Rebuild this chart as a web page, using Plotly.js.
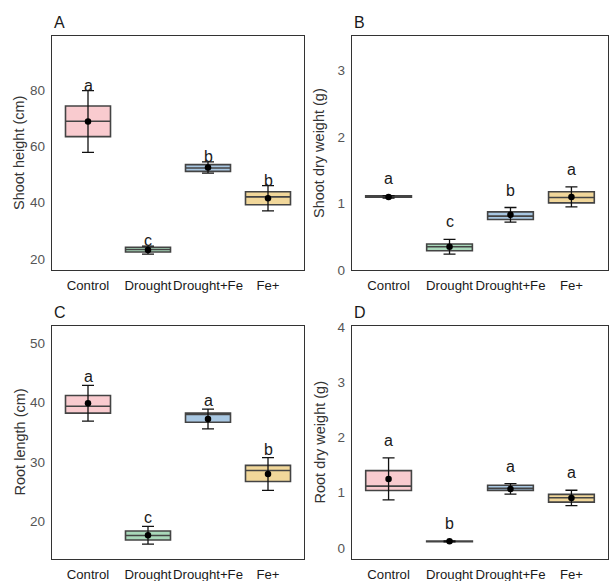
<!DOCTYPE html>
<html>
<head>
<meta charset="utf-8">
<script src="https://cdn.plot.ly/plotly-3.0.1.min.js"></script>
<style>html,body{margin:0;padding:0;background:#fff;}#chart{width:609px;height:581px;}</style>
</head>
<body>
<div id="chart"></div>
<script>
// ---- data ----
var categories = ["Control", "Drought", "Drought+Fe", "Fe+"];
var boxColors = ["#F9CBCF", "#A9D8BA", "#A8C7E2", "#F1D79A"];

// Panel A: Shoot height (cm)
var aQ1 = [63.6, 22.4, 51.2, 39.3];
var aMed = [69.1, 23.3, 52.4, 42.1];
var aQ3 = [74.5, 24.1, 53.6, 43.9];
var aMean = [69.0, 23.1, 52.6, 41.6];
var aSD = [11.0, 1.4, 2.0, 4.5];
var aLetters = ["a", "c", "b", "b"];

// Panel B: Shoot dry weight (g)
var bQ1 = [1.095, 0.29, 0.76, 1.01];
var bMed = [1.105, 0.35, 0.81, 1.09];
var bQ3 = [1.115, 0.39, 0.875, 1.176];
var bMean = [1.10, 0.35, 0.83, 1.10];
var bSD = [0.02, 0.11, 0.11, 0.15];
var bLetters = ["a", "c", "b", "a"];

// Panel C: Root length (cm)
var cQ1 = [38.25, 16.9, 36.7, 26.75];
var cMed = [39.4, 17.65, 38.0, 28.6];
var cQ3 = [41.2, 18.4, 38.25, 29.45];
var cMean = [39.9, 17.7, 37.25, 28.0];
var cSD = [3.0, 1.5, 1.65, 2.75];
var cLetters = ["a", "c", "a", "b"];

// Panel D: Root dry weight (g)
var dQ1 = [1.04, 0.115, 1.04, 0.83];
var dMed = [1.12, 0.12, 1.08, 0.91];
var dQ3 = [1.40, 0.125, 1.135, 0.97];
var dMean = [1.25, 0.12, 1.07, 0.905];
var dSD = [0.38, 0.01, 0.095, 0.14];
var dLetters = ["a", "b", "a", "a"];

var panels = [
  {name: "A", q1: aQ1, med: aMed, q3: aQ3, mean: aMean, sd: aSD, letters: aLetters,
   ytitle: "Shoot height (cm)", yrange: [16, 99.5], ytickvals: [20, 40, 60, 80],
   px: [52, 304], py: [36, 270], lshift: -5},
  {name: "B", q1: bQ1, med: bMed, q3: bQ3, mean: bMean, sd: bSD, letters: bLetters,
   ytitle: "Shoot dry weight (g)", yrange: [0, 3.52], ytickvals: [0, 1, 2, 3],
   px: [352, 608], py: [36, 270], lshift: 7},
  {name: "C", q1: cQ1, med: cMed, q3: cQ3, mean: cMean, sd: cSD, letters: cLetters,
   ytitle: "Root length (cm)", yrange: [13.7, 52.9], ytickvals: [20, 30, 40, 50],
   px: [52, 304], py: [326, 559], lshift: -2},
  {name: "D", q1: dQ1, med: dMed, q3: dQ3, mean: dMean, sd: dSD, letters: dLetters,
   ytitle: "Root dry weight (g)", yrange: [-0.2, 4.02], ytickvals: [0, 1, 2, 3, 4],
   px: [352, 608], py: [326, 559], lshift: 7}
];

var W = 609, H = 581;
var FONT = "Liberation Sans, Arial, sans-serif";
var traces = [];
var layout = {
  width: W, height: H,
  margin: {l: 0, r: 0, t: 0, b: 0},
  paper_bgcolor: "#ffffff", plot_bgcolor: "#ffffff",
  showlegend: false,
  boxmode: "overlay",
  font: {family: FONT, color: "#222"},
  annotations: []
};

panels.forEach(function (p, i) {
  var n = i + 1;
  var xa = "x" + (n === 1 ? "" : n), ya = "y" + (n === 1 ? "" : n);
  var xk = "xaxis" + (n === 1 ? "" : n), yk = "yaxis" + (n === 1 ? "" : n);
  categories.forEach(function (c, k) {
    traces.push({
      type: "box", xaxis: xa, yaxis: ya,
      x: [c], q1: [p.q1[k]], median: [p.med[k]], q3: [p.q3[k]],
      lowerfence: [p.q1[k]], upperfence: [p.q3[k]],
      width: 0.75, fillcolor: boxColors[k],
      line: {color: "#444", width: 1.6},
      boxpoints: false, hoverinfo: "skip"
    });
  });
  traces.push({
    type: "scatter", mode: "markers", xaxis: xa, yaxis: ya,
    x: categories, y: p.mean,
    marker: {color: "#000", size: 6.5},
    error_y: {type: "data", array: p.sd, visible: true, color: "#111", thickness: 1.3, width: 6},
    hoverinfo: "skip"
  });
  layout[xk] = {
    domain: [p.px[0] / W, p.px[1] / W],
    anchor: ya, type: "category", range: [-0.6, 3.6],
    categoryorder: "array", categoryarray: categories,
    showgrid: false, zeroline: false,
    showline: true, mirror: true, linecolor: "#333", linewidth: 1.3,
    ticks: "outside", ticklen: 3, tickcolor: "rgba(0,0,0,0)",
    tickangle: 0,
    tickfont: {family: FONT, size: 13.2, color: "#1a1a1a"}
  };
  layout[yk] = {
    domain: [1 - p.py[1] / H, 1 - p.py[0] / H],
    anchor: xa, range: p.yrange, tickvals: p.ytickvals,
    showgrid: false, zeroline: false,
    showline: true, mirror: true, linecolor: "#333", linewidth: 1.3,
    ticks: "outside", ticklen: 3, tickcolor: "rgba(0,0,0,0)",
    tickfont: {family: FONT, size: 13.5, color: "#555"}
  };
  // significance letters
  categories.forEach(function (c, k) {
    layout.annotations.push({
      xref: xa, yref: ya, x: c, y: p.mean[k] + p.sd[k],
      text: p.letters[k], showarrow: false, yanchor: "bottom", yshift: p.lshift,
      font: {family: FONT, size: 16, color: "#1a1a1a"}
    });
  });
  // panel label
  layout.annotations.push({
    xref: "paper", yref: "paper", x: p.px[0] / W, y: 1 - (p.py[0] - 3) / H,
    xanchor: "left", yanchor: "bottom", text: p.name, showarrow: false,
    font: {family: FONT, size: 16, color: "#1a1a1a"}
  });
  // y title
  layout.annotations.push({
    xref: "paper", yref: "paper", x: (p.px[0] - 33) / W, y: 1 - ((p.py[0] + p.py[1]) / 2) / H,
    xanchor: "center", yanchor: "middle", textangle: -90, text: p.ytitle, showarrow: false,
    font: {family: FONT, size: 14.5, color: "#333"}
  });
});

Plotly.newPlot("chart", traces, layout, {displayModeBar: false, staticPlot: true});
</script>
</body>
</html>
